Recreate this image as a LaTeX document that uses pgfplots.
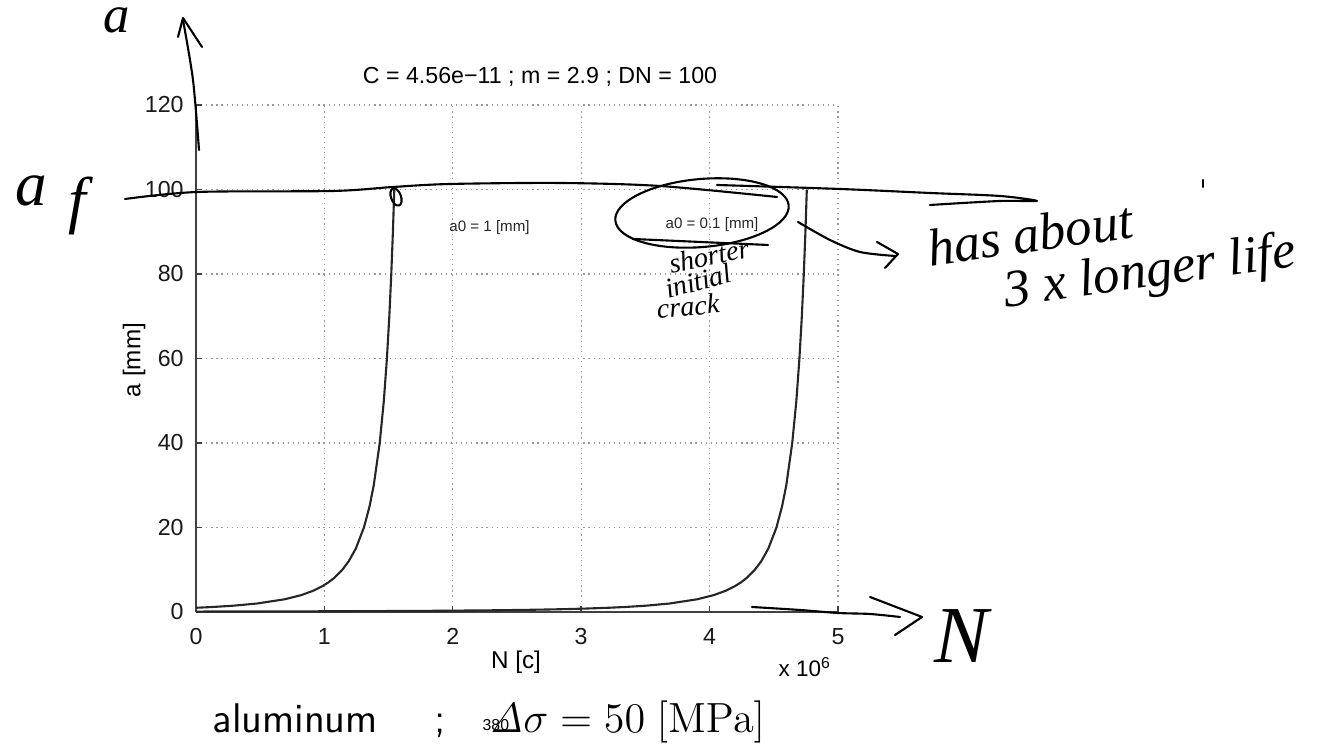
\documentclass[border=0pt]{standalone}
\usepackage[no-math]{fontspec}
\usepackage{pgfplots}
\pgfplotsset{compat=1.18}
\setmainfont{Liberation Sans}
\newfontfamily\hand{Liberation Serif}

% crack length a [mm] vs cycles N [x1e6]
\begin{document}
\begin{tikzpicture}[x=0.1mm,y=0.1mm]
\begin{axis}[
    anchor=south west,
    scale only axis, width=64.2mm, height=50.7mm,
    xmin=0, xmax=5, ymin=0, ymax=120,
    xtick={0,1,2,3,4,5},
    ytick={0,20,40,60,80,100,120},
    axis x line*=bottom, axis y line*=left,
    axis line style={black!75, line width=0.5pt},
    tick align=inside, major tick length=0.6mm,
    tick style={black!75, line width=0.4pt},
    grid=major,
    grid style={black!40, line width=0.35pt, dash pattern=on 0.35pt off 1.1pt},
    tick label style={font=\fontsize{6.6}{7}\selectfont, text=black!90},
    /pgf/number format/assume math mode=true,
    xticklabel style={yshift=-0.4mm},
    clip=false,
  ]
  \addplot[black!85, line width=0.6pt] coordinates {
    (0,1)(0.07417,1.1)(0.13916,1.2)(0.29468,1.5)(0.47345,2)(0.68916,3)
    (0.82001,4)(0.91047,5)(0.97792,6)(1.03080,7)(1.07373,8)(1.13995,10)
    (1.18933,12)(1.24450,15)(1.30794,20)(1.35174,25)(1.38447,30)(1.43090,40)
    (1.46300,50)(1.48691,60)(1.50569,70)(1.52094,80)(1.53364,90)(1.54442,100)
  };
  \addplot[black!85, line width=0.6pt] coordinates {
    (0,0.1)(0.39224,0.12)(0.83060,0.15)(1.33432,0.2)(1.68254,0.25)(1.94230,0.3)
    (2.31116,0.4)(2.56617,0.5)(2.75620,0.6)(2.90523,0.7)(3.02620,0.8)(3.21284,1)
    (3.35200,1.2)(3.50752,1.5)(3.68629,2)(3.90201,3)(4.03285,4)(4.12332,5)
    (4.19076,6)(4.24364,7)(4.28657,8)(4.35279,10)(4.40218,12)(4.45734,15)
    (4.52079,20)(4.56459,25)(4.59731,30)(4.64374,40)(4.67585,50)(4.69975,60)
    (4.71853,70)(4.73378,80)(4.74649,90)(4.75726,100)
  };
  \node[anchor=west, font=\fontsize{4.3}{5}\selectfont, text=black!85]
    at (axis cs:1.877,91.1) {a0 = 1 [mm]};
  \node[font=\fontsize{4.3}{5}\selectfont, text=black!85]
    at (axis cs:4.019,91.6) {a0 = 0.1 [mm]};
\end{axis}

% everything below is placed in reference pixels, measured from the top left
\begin{scope}[shift={(-196,612)}, yscale=-1]
\path[use as bounding box] (0,0) rectangle (1329,745);
\node[font=\fontsize{6.6}{8}\selectfont] at (540,77) {C = 4.56e−11 ; m = 2.9 ; DN = 100};
\node[font=\fontsize{6.9}{8}\selectfont] at (516,662) {N [c]};
\node[font=\fontsize{6.9}{8}\selectfont, rotate=90] at (134,360) {a [mm]};
\node[anchor=base west, font=\fontsize{6.4}{7}\selectfont, inner sep=0] at (778,677) {x 10\textsuperscript{6}};

\node[anchor=base west, inner sep=0, font=\sffamily\fontsize{11.8}{13}\selectfont] at (212,733) {aluminum};
\node[anchor=base west, inner sep=0, font=\sffamily\fontsize{11.8}{13}\selectfont] at (434,733) {;};
\node[anchor=base west, inner sep=0, font=\fontsize{11.8}{13}\selectfont] at (489,733) {$\mathit{\Delta}\sigma = 50\ \mathrm{[MPa]}$};
\node[anchor=base west, inner sep=0, font=\fontsize{4.5}{5}\selectfont] at (482,731) {380};

% handwritten notes
\tikzset{hw/.style={black, line width=0.6pt, line cap=round, line join=round}}
\draw[hw] plot[smooth] coordinates {(199,150)(193,80)(183,20)};
\draw[hw] (178,37)--(183,18)--(202,47);
\draw[hw] plot[smooth] coordinates {(125,199)(197,192)(333,191)(393,187)(450,184)(560,183)(660,186)(777,197)};
\draw[hw] plot[smooth] coordinates {(717,185)(840,189)(930,193)(1000,196)(1037,201)(1000,201)(930,205)};
\draw[hw, rotate around={-20:(396,197)}] (396,197) ellipse (5 and 9);
\draw[hw, rotate around={-5:(702,213)}] (702,213) ellipse (87 and 34);
\draw[hw] (633,239)--(768,245);
\draw[hw] plot[smooth] coordinates {(798,222)(830,240)(860,252)(895,256)};
\draw[hw] (877,242)--(898,254)--(885,268);
\draw[hw] plot[smooth] coordinates {(752,607)(800,610)(838,613)(870,614)(900,617)};
\draw[hw] (870,597)--(922,617)--(895,635);
\draw[hw] (1203,180)--(1203,187);

\node[anchor=base, inner sep=0, font=\hand\itshape\fontsize{15}{16}\selectfont] at (117,33) {a};
\node[anchor=base, inner sep=0, font=\hand\itshape\fontsize{18}{20}\selectfont] at (31,206) {a};
\node[anchor=base, inner sep=0, font=\hand\itshape\fontsize{18}{20}\selectfont] at (77,222) {f};
\node[font=\hand\itshape\fontsize{8}{10}\selectfont, rotate=12] at (709,256) {shorter};
\node[font=\hand\itshape\fontsize{8}{10}\selectfont, rotate=15] at (698,281) {initial};
\node[font=\hand\itshape\fontsize{8}{10}\selectfont, rotate=5] at (688,306) {crack};
\node[font=\hand\itshape\fontsize{15}{18}\selectfont, rotate=8] at (1030,234) {has about};
\node[font=\hand\itshape\fontsize{15}{18}\selectfont, rotate=8] at (1150,274) {3 x longer life};
\node[anchor=base, inner sep=0, font=\hand\itshape\fontsize{23}{25}\selectfont] at (961,663) {N};
\end{scope}
\end{tikzpicture}
\end{document}
